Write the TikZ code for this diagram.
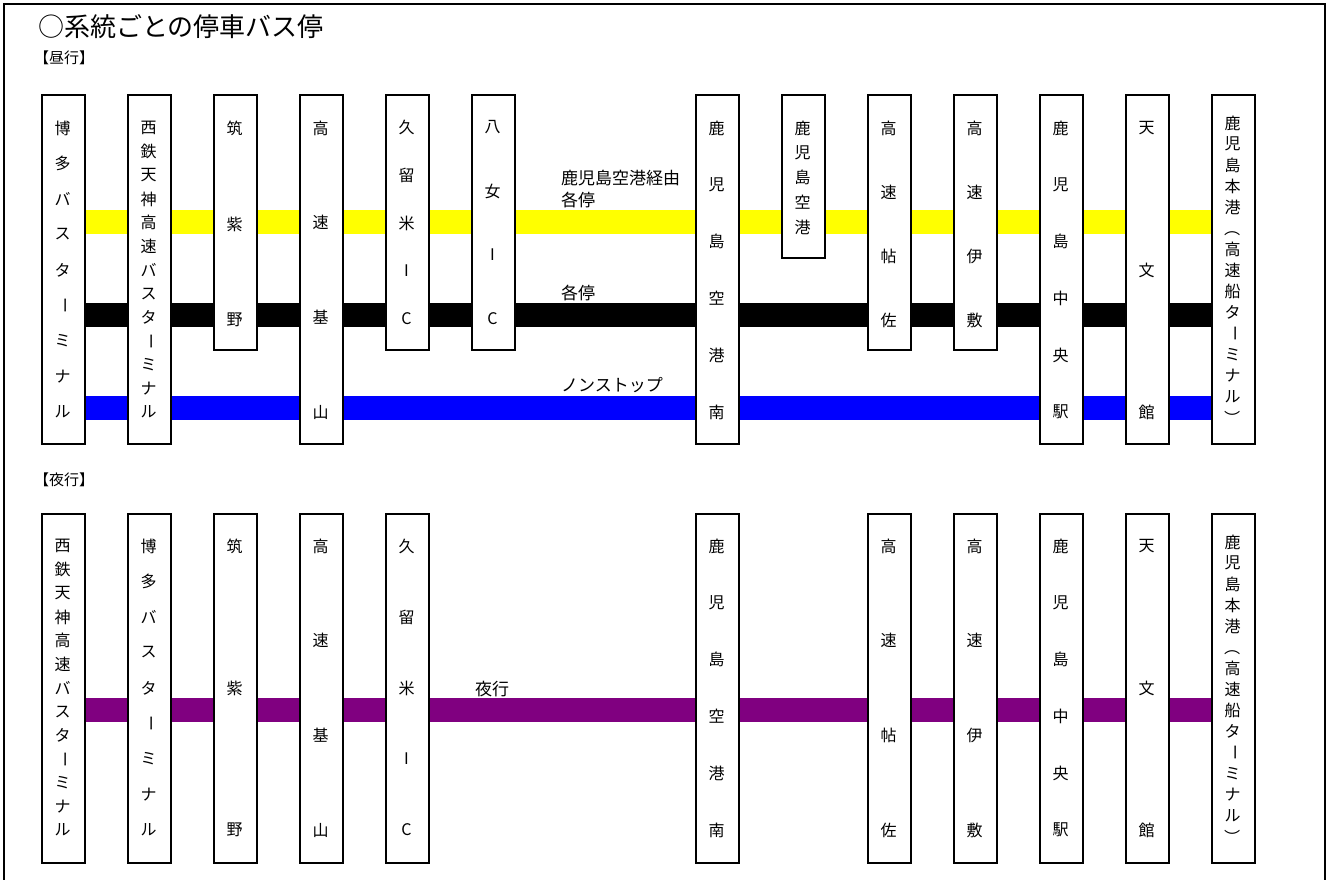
\documentclass[tikz,border=0pt]{standalone}
\usepackage{fontspec}
\setmainfont{Noto Sans CJK JP}
\usepackage{graphicx}
\pgfdeclarelayer{bg}
\pgfsetlayers{bg,main}
\newcommand\rot[1]{\rotatebox{-90}{#1}}
\tikzset{
  stopbox/.style={draw, line width=1.6pt, fill=white, minimum width=43pt, inner sep=0pt},
  chr/.style={inner sep=0pt, font=\fontsize{16}{16}\selectfont},
  lbl/.style={inner sep=0pt, anchor=west, font=\fontsize{17}{17}\selectfont},
  sect/.style={anchor=west, inner sep=0pt, font=\fontsize{15}{15}\selectfont},
  band/.style={line width=24pt},
}
% name, x, top, bottom, first centre, last centre, N, chars
\newcommand\stopcol[8]{%
  \pgfmathsetmacro\hh{#4-#3}%
  \node[stopbox, minimum height=\hh pt, anchor=north west] (#1) at (#2,#3) {};
  \foreach \myc [count=\k] in {#8} {
    \pgfmathsetmacro\yy{#5+(\k-1)*((#6)-(#5))/((#7)-1)}
    \node[chr] (#1c\k) at (#2+21.5,\yy) {\myc};
  }
}
\begin{document}
\begin{tikzpicture}[x=1pt, y=-1pt]
\clip (0,0) rectangle (1330,879);
\draw[line width=2pt] (4,4) rectangle (1325,900);
\node[anchor=west, inner sep=0pt, font=\fontsize{26}{26}\selectfont] (title) at (38,27) {○系統ごとの停車バス停};
\node[sect] (day) at (34,58) {【昼行】};
\node[sect] (night) at (34,480) {【夜行】};

% day stops
\stopcol{d1}{41}{94}{443}{128}{412}{9}{博,多,バ,ス,タ,\rot{ー},ミ,ナ,ル}
\stopcol{d2}{127}{94}{443}{128}{412}{13}{西,鉄,天,神,高,速,バ,ス,タ,\rot{ー},ミ,ナ,ル}
\stopcol{d3}{213}{94}{349}{128}{320}{3}{筑,紫,野}
\stopcol{d4}{299}{94}{443}{128}{412}{4}{高,速,基,山}
\stopcol{d5}{385}{94}{349}{127}{319}{5}{久,留,米,I,C}
\stopcol{d6}{471}{94}{349}{127}{319}{4}{八,女,I,C}
\stopcol{d7}{695}{94}{443}{128}{412}{6}{鹿,児,島,空,港,南}
\stopcol{d8}{781}{94}{257}{128}{227}{5}{鹿,児,島,空,港}
\stopcol{d9}{867}{94}{349}{128}{320}{4}{高,速,帖,佐}
\stopcol{d10}{953}{94}{349}{128}{320}{4}{高,速,伊,敷}
\stopcol{d11}{1039}{94}{443}{128}{412}{6}{鹿,児,島,中,央,駅}
\stopcol{d12}{1125}{94}{443}{128}{412}{3}{天,文,館}
\stopcol{d13}{1211}{94}{443}{123}{418}{15}{鹿,児,島,本,港,\rot{（},高,速,船,タ,\rot{ー},ミ,ナ,ル,\rot{）}}

% night stops
\stopcol{n1}{41}{513}{862}{546}{830}{13}{西,鉄,天,神,高,速,バ,ス,タ,\rot{ー},ミ,ナ,ル}
\stopcol{n2}{127}{513}{862}{546}{830}{9}{博,多,バ,ス,タ,\rot{ー},ミ,ナ,ル}
\stopcol{n3}{213}{513}{862}{546}{830}{3}{筑,紫,野}
\stopcol{n4}{299}{513}{862}{546}{830}{4}{高,速,基,山}
\stopcol{n5}{385}{513}{862}{546}{830}{5}{久,留,米,I,C}
\stopcol{n6}{695}{513}{862}{546}{830}{6}{鹿,児,島,空,港,南}
\stopcol{n7}{867}{513}{862}{546}{830}{4}{高,速,帖,佐}
\stopcol{n8}{953}{513}{862}{546}{830}{4}{高,速,伊,敷}
\stopcol{n9}{1039}{513}{862}{546}{830}{6}{鹿,児,島,中,央,駅}
\stopcol{n10}{1125}{513}{862}{546}{830}{3}{天,文,館}
\stopcol{n11}{1211}{513}{862}{542}{837}{15}{鹿,児,島,本,港,\rot{（},高,速,船,タ,\rot{ー},ミ,ナ,ル,\rot{）}}

% band levels
\coordinate (yy1) at (0,222);
\coordinate (yy2) at (0,314.5);
\coordinate (yy3) at (0,408);
\coordinate (yy4) at (0,710);

\begin{pgfonlayer}{bg}
\draw[band, draw={rgb,255:red,255;green,255;blue,0}] (d1.east |- yy1) -- (d13.west |- yy1);
\draw[band, draw=black] (d1.east |- yy2) -- (d13.west |- yy2);
\draw[band, draw={rgb,255:red,0;green,0;blue,255}] (d1.east |- yy3) -- (d13.west |- yy3);
\draw[band, draw={rgb,255:red,128;green,0;blue,128}] (n1.east |- yy4) -- (n11.west |- yy4);
\end{pgfonlayer}

% route labels
\node[lbl] (l1) at (561,178) {鹿児島空港経由};
\node[lbl] (l2) at (561,200) {各停};
\node[lbl] (l3) at (561,293) {各停};
\node[lbl] (l4) at (561,385) {ノンストップ};
\node[lbl] (l5) at (475,689) {夜行};
\end{tikzpicture}
\end{document}
